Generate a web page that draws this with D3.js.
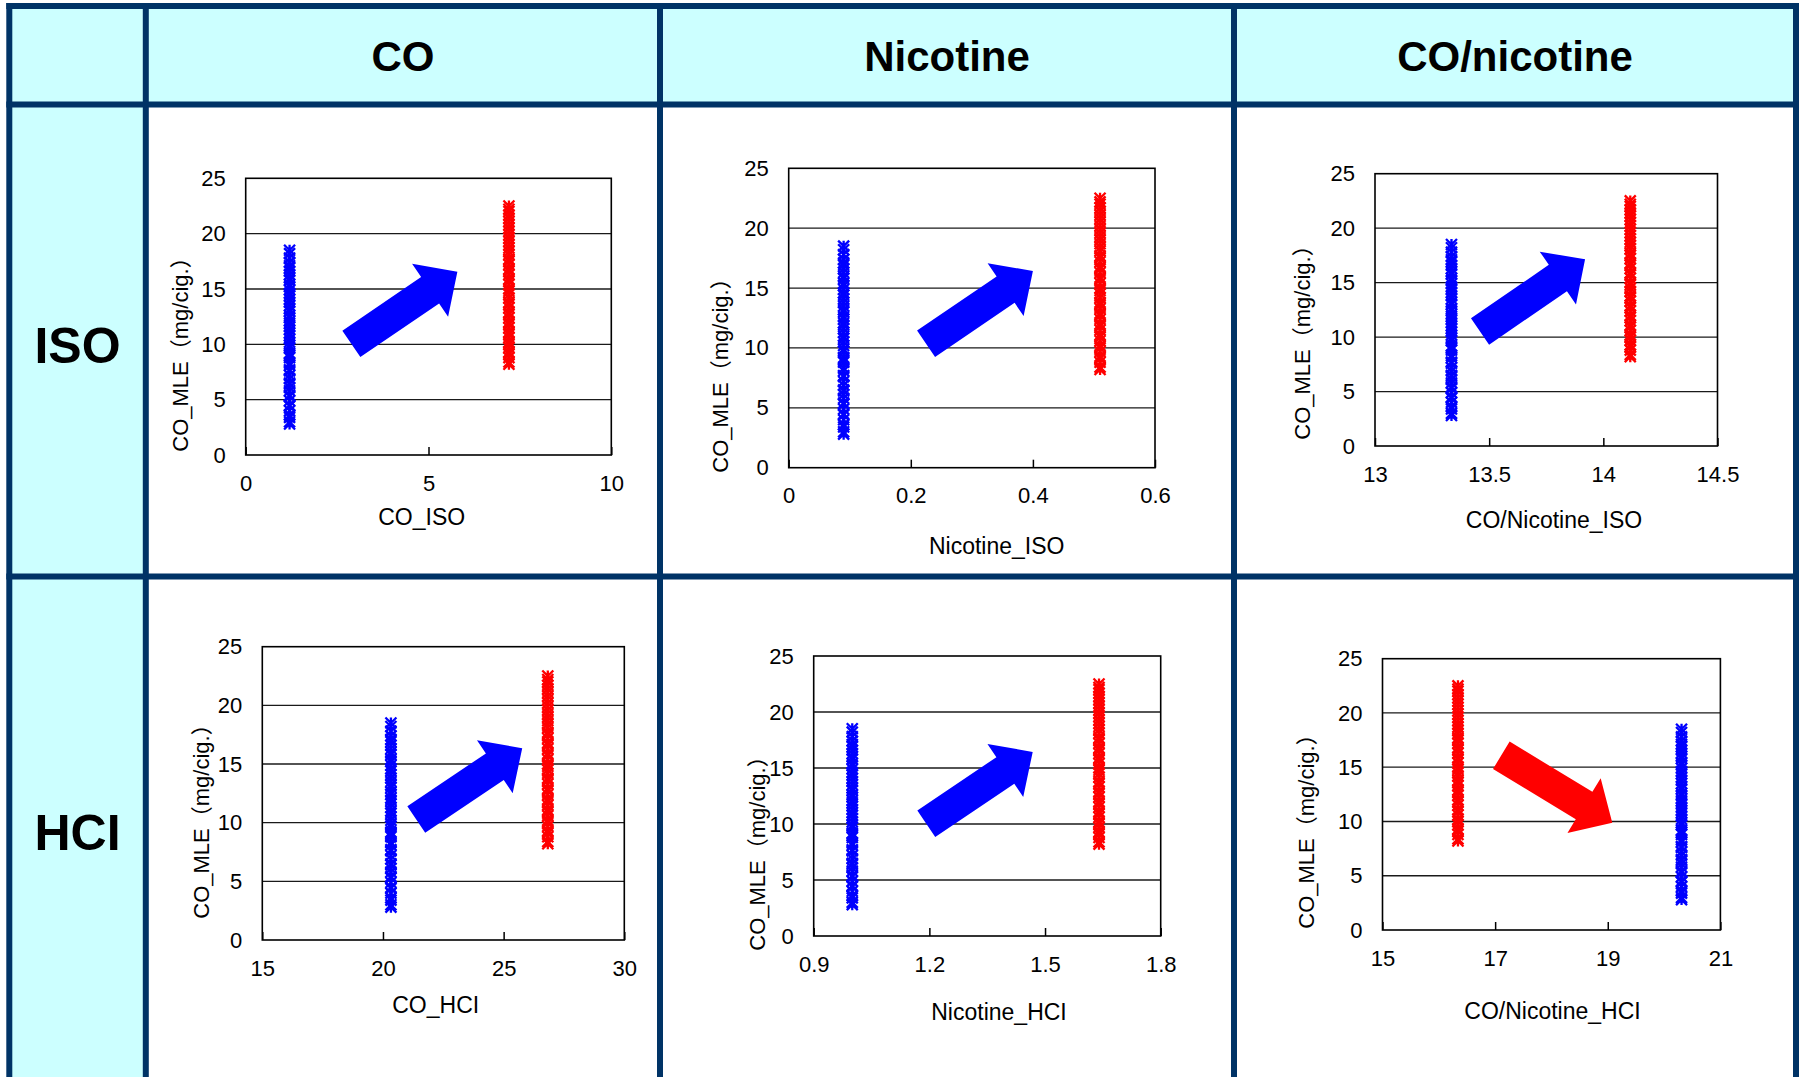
<!DOCTYPE html>
<meta charset="utf-8">
<style>
body { margin: 0; background: #fff; }
svg { display: block; font-family: "Liberation Sans", Arial, "Noto Sans CJK JP", sans-serif; }
.tick text { font-size: 22px; fill: #000; font-family: "Liberation Sans", Arial, sans-serif; }
</style>
<body>
<div id="chart"></div>
<script src="https://d3js.org/d3.v7.min.js"></script>
<script>

// table headings
const colNames = ["CO", "Nicotine", "CO/nicotine"];
const rowNames = ["ISO", "HCI"];

// one scatter per cell, row by row
const xTitles = ["CO_ISO", "Nicotine_ISO", "CO/Nicotine_ISO", "CO_HCI", "Nicotine_HCI", "CO/Nicotine_HCI"];
const yTitle = "CO_MLE（mg/cig.）";
const xDomains = [[0, 10], [0, 0.6], [13, 14.5], [15, 30], [0.9, 1.8], [15, 21]];
const xTickValues = [[0, 5, 10], [0, 0.2, 0.4, 0.6], [13, 13.5, 14, 14.5], [15, 20, 25, 30], [0.9, 1.2, 1.5, 1.8], [15, 17, 19, 21]];
const yTickValues = [0, 5, 10, 15, 20, 25];
const gridValues = [5, 10, 15, 20];

// x position of each group in each panel
const blueX = [1.2, 0.09, 13.335, 20.33, 1.0, 20.31];
const redX = [7.2, 0.51, 14.118, 26.83, 1.64, 16.34];

// CO_MLE values (same cigarettes in every panel)
const blueMLE = [2.8, 3.0, 3.4, 3.6, 4.0, 4.4, 4.5, 4.9, 5.3, 5.4, 5.8, 6.1, 6.4, 6.5, 6.9, 7.2, 7.6, 7.7,
  8.1, 8.3, 8.8, 9.0, 9.2, 9.7, 9.9, 10.2, 10.5, 10.8, 11.0, 11.3, 11.6, 11.9, 12.1, 12.4, 12.6, 13.0,
  13.2, 13.5, 13.8, 14.1, 14.4, 14.6, 14.9, 15.2, 15.4, 15.8, 16.0, 16.3, 16.6, 16.9, 17.1, 17.4, 17.8,
  18.2, 18.5];
const redMLE = [8.2, 8.4, 8.8, 9.1, 9.3, 9.7, 10.0, 10.2, 10.6, 10.9, 11.1, 11.5, 11.8, 12.0, 12.4, 12.7,
  12.9, 13.3, 13.6, 13.8, 14.2, 14.5, 14.8, 15.0, 15.4, 15.7, 15.9, 16.3, 16.6, 16.8, 17.2, 17.5, 17.7,
  18.1, 18.4, 18.7, 19.0, 19.3, 19.6, 19.9, 20.2, 20.5, 20.8, 21.1, 21.4, 21.7, 22.0, 22.2, 22.5];

// block arrows, tail -> tip in data units
const arrowPts = [[2.89, 10.04, 5.79, 16.56], [0.225, 10.35, 0.400, 16.42], [13.46, 10.51, 13.92, 17.14],
  [21.38, 10.27, 25.77, 16.34], [1.192, 10.02, 1.468, 16.43], [17.11, 16.10, 19.08, 9.89]];
const arrowColors = ["#0000ff", "#0000ff", "#0000ff", "#0000ff", "#0000ff", "#ff0000"];

// ---- layout ----
const W = 1801, H = 1077;
const navy = "#003366", cyan = "#ccffff";
const colX = [9.3, 145.8, 660, 1234, 1796];
const rowY = [6, 104.5, 576.5];

const boxes = [
  {l: 245.7, t: 178.3, r: 611.3, b: 455,   yt: [180, 349],   xt: [421.7, 517]},
  {l: 788.7, t: 168.3, r: 1155,  b: 467.7, yt: [720, 370],   xt: [996.7, 546]},
  {l: 1375,  t: 173.7, r: 1717.5, b: 446,  yt: [1302.5, 337], xt: [1554, 520]},
  {l: 262.3, t: 646.7, r: 624.3, b: 940,   yt: [201.7, 816], xt: [435.7, 1005]},
  {l: 813.7, t: 656,   r: 1160.7, b: 936,  yt: [757, 848],   xt: [999, 1011.5]},
  {l: 1382.5, t: 658.7, r: 1720.4, b: 930, yt: [1306, 826],  xt: [1552.5, 1011]}
];

const svg = d3.select("#chart").append("svg")
  .attr("width", W)
  .attr("height", H);

svg.append("rect").attr("width", W).attr("height", H).attr("fill", "#fff");

// cyan header row and first column
svg.append("rect")
  .attr("x", colX[0]).attr("y", rowY[0])
  .attr("width", colX[4] - colX[0]).attr("height", rowY[1] - rowY[0])
  .attr("fill", cyan);
svg.append("rect")
  .attr("x", colX[0]).attr("y", rowY[0])
  .attr("width", colX[1] - colX[0]).attr("height", H - rowY[0])
  .attr("fill", cyan);

// grid of the table
svg.selectAll(".vline")
  .data(colX)
  .join("line")
    .attr("x1", d => d).attr("x2", d => d)
    .attr("y1", 3).attr("y2", H)
    .attr("stroke", navy)
    .attr("stroke-width", 6);
svg.selectAll(".hline")
  .data(rowY)
  .join("line")
    .attr("x1", 6.3).attr("x2", 1799)
    .attr("y1", d => d).attr("y2", d => d)
    .attr("stroke", navy)
    .attr("stroke-width", 6);

svg.selectAll(".colname")
  .data(colNames)
  .join("text")
    .attr("x", (d, i) => (colX[i + 1] + colX[i + 2]) / 2)
    .attr("y", 56)
    .attr("dy", "0.35em")
    .attr("text-anchor", "middle")
    .attr("font-size", "42px")
    .attr("font-weight", "bold")
    .text(d => d);

const rowLabelY = [345, 832];
svg.selectAll(".rowname")
  .data(rowNames)
  .join("text")
    .attr("x", 77.5)
    .attr("y", (d, i) => rowLabelY[i])
    .attr("dy", "0.35em")
    .attr("text-anchor", "middle")
    .attr("font-size", "50px")
    .attr("font-weight", "bold")
    .text(d => d);

// asterisk-like marker
const marker = "M-5.5,-5.5L5.5,5.5M-5.5,5.5L5.5,-5.5M0,-5.5L0,5.5";

boxes.forEach((bx, p) => {
  const x = d3.scaleLinear().domain(xDomains[p]).range([bx.l, bx.r]);
  const y = d3.scaleLinear().domain([0, 25]).range([bx.b, bx.t]);
  const g = svg.append("g");

  g.append("rect")
    .attr("x", bx.l).attr("y", bx.t)
    .attr("width", bx.r - bx.l).attr("height", bx.b - bx.t)
    .attr("fill", "#fff");

  g.selectAll(".grid")
    .data(gridValues)
    .join("line")
      .attr("x1", bx.l).attr("x2", bx.r)
      .attr("y1", d => y(d)).attr("y2", d => y(d))
      .attr("stroke", "#1a1a1a")
      .attr("stroke-width", 1.3);

  g.append("g")
    .attr("transform", `translate(${bx.l},0)`)
    .call(d3.axisLeft(y).tickValues(yTickValues).tickSize(0).tickPadding(20))
    .call(a => a.select(".domain").remove());

  g.append("g")
    .attr("transform", `translate(0,${bx.b})`)
    .call(d3.axisBottom(x).tickValues(xTickValues[p]).tickFormat(d => String(d))
      .tickSizeInner(-8).tickSizeOuter(0).tickPadding(20))
    .call(a => a.select(".domain").remove())
    .call(a => a.selectAll(".tick line").attr("stroke", "#000").attr("stroke-width", 1.5));

  g.append("rect")
    .attr("x", bx.l).attr("y", bx.t)
    .attr("width", bx.r - bx.l).attr("height", bx.b - bx.t)
    .attr("fill", "none")
    .attr("stroke", "#000")
    .attr("stroke-width", 1.6);

  // scatter columns
  const series = [
    {x: blueX[p], ys: blueMLE, color: "#0000ff"},
    {x: redX[p], ys: redMLE, color: "#ff0000"}
  ];
  series.forEach(s => {
    g.append("g")
      .selectAll("path")
      .data(s.ys)
      .join("path")
        .attr("transform", d => `translate(${x(s.x)},${y(d)})`)
        .attr("d", marker)
        .attr("fill", "none")
        .attr("stroke", s.color)
        .attr("stroke-width", 2.3);
  });

  // block arrow
  const [ax0, ay0, ax1, ay1] = arrowPts[p];
  const x0 = x(ax0), y0 = y(ay0), x1 = x(ax1), y1 = y(ay1);
  const L = Math.hypot(x1 - x0, y1 - y0);
  const ang = Math.atan2(y1 - y0, x1 - x0) * 180 / Math.PI;
  const sw = 16, hw = 32, hl = 33;
  const shape = [[0, -sw], [L - hl, -sw], [L - hl, -hw], [L, 0], [L - hl, hw], [L - hl, sw], [0, sw]];
  g.append("polygon")
    .attr("points", shape.map(q => q.join(",")).join(" "))
    .attr("transform", `translate(${x0},${y0}) rotate(${ang})`)
    .attr("fill", arrowColors[p]);

  // axis titles
  g.append("text")
    .attr("x", bx.xt[0]).attr("y", bx.xt[1])
    .attr("dy", "0.35em")
    .attr("text-anchor", "middle")
    .attr("font-size", "23px")
    .text(xTitles[p]);

  g.append("text")
    .attr("transform", `translate(${bx.yt[0]},${bx.yt[1]}) rotate(-90)`)
    .attr("dy", "0.35em")
    .attr("text-anchor", "middle")
    .attr("font-size", "22px")
    .text(yTitle);
});

</script>
